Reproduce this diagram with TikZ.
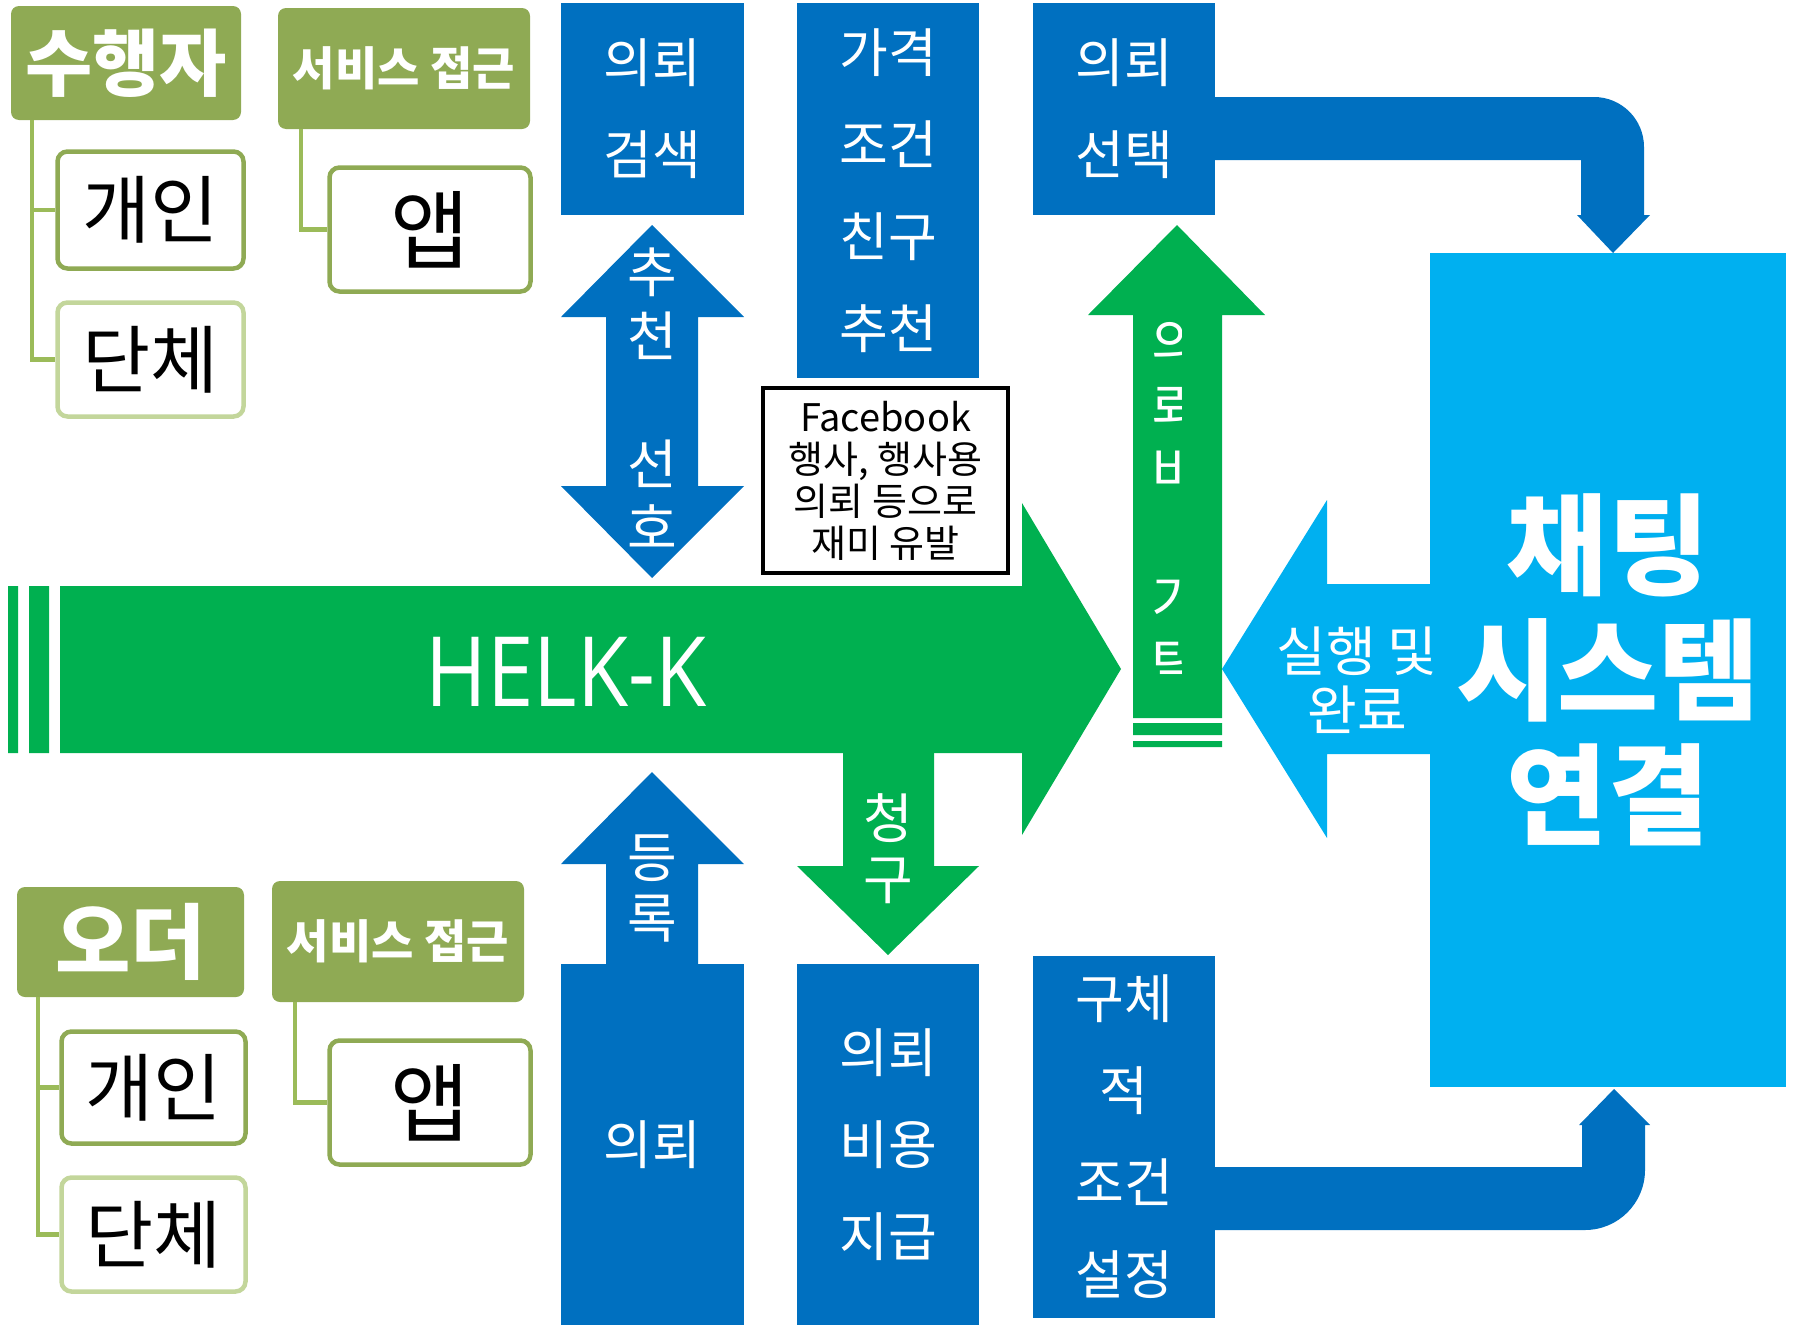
\documentclass[tikz,border=0pt]{standalone}
\usepackage{fontspec}
\setmainfont{Noto Sans CJK KR}
\newfontfamily\helkfont[FakeStretch=0.86]{Open Sans}
\definecolor{olivehead}{HTML}{8FAA54}
\definecolor{olivelight}{HTML}{C3D69B}
\definecolor{treegreen}{HTML}{9BBB59}
\definecolor{flowblue}{HTML}{0070C0}
\definecolor{flowgreen}{HTML}{00B050}
\definecolor{chatcyan}{HTML}{00B0F0}
\begin{document}
\begin{tikzpicture}[x=1pt,y=-1pt,
    headbox/.style={fill=olivehead,text=white,rounded corners=8pt,inner sep=0pt,
      font=\fontsize{73}{73}\selectfont\bfseries},
    svcbox/.style={headbox,minimum width=252pt,minimum height=121pt,
      font=\fontsize{46}{46}\selectfont\bfseries},
    memberbox/.style={draw=olivehead,line width=4.5pt,fill=white,rounded corners=10pt,
      inner sep=0pt,font=\fontsize{74}{74}\selectfont},
    appbox/.style={memberbox,minimum width=201pt,minimum height=124pt,
      font=\fontsize{86}{86}\selectfont},
    treeline/.style={draw=treegreen,line width=4.5pt},
    flowbox/.style={fill=flowblue,text=white,inner sep=0pt,align=center,
      minimum width=183pt,font=\fontsize{53}{92}\selectfont},
    arrowtext/.style={text=white,inner sep=0pt,align=center,
      font=\fontsize{54}{64}\selectfont}
  ]
  \useasboundingbox (0,0) rectangle (1794,1325);
  %
  \node[headbox,minimum width=230pt,minimum height=114pt] (doer) at (126,63) {수행자};
  \node[memberbox,minimum width=186pt,minimum height=117pt] (doerone) at (150.5,210) {개인};
  \node[memberbox,draw=olivelight,minimum width=186pt,minimum height=114pt] (doergrp) at (150.5,359.5) {단체};
  \node[svcbox] (doersvc) at (404,68.5) {서비스 접근};
  \node[appbox] (doerapp) at (430,229.5) {앱};
  \draw[treeline] ([xshift=21pt]doer.south west) |- (doerone.west);
  \draw[treeline] ([xshift=21pt]doer.south west) |- (doergrp.west);
  \draw[treeline] ([xshift=23pt]doersvc.south west) |- (doerapp.west);
  %
  \node[headbox,minimum width=227pt,minimum height=110pt,
    font=\fontsize{82}{82}\selectfont\bfseries] (order) at (130.5,942) {오더};
  \node[memberbox,minimum width=184pt,minimum height=112pt] (orderone) at (153.5,1087.5) {개인};
  \node[memberbox,draw=olivelight,minimum width=184pt,minimum height=114pt] (ordergrp) at (153.5,1234.5) {단체};
  \node[svcbox] (ordersvc) at (398,941.5) {서비스 접근};
  \node[appbox] (orderapp) at (430,1102.5) {앱};
  \draw[treeline] ([xshift=21pt]order.south west) |- (orderone.west);
  \draw[treeline] ([xshift=21pt]order.south west) |- (ordergrp.west);
  \draw[treeline] ([xshift=23pt]ordersvc.south west) |- (orderapp.west);
  %
  \fill[flowgreen] (8,586) rectangle (18,753) (29,586) rectangle (49,753);
  \fill[flowgreen] (60,586) -- (1022,586) -- (1022,503) -- (1121,669) -- (1022,835)
    -- (1022,753) -- (60,753) -- cycle;
  \node[text=white,inner sep=0pt,font=\fontsize{97}{97}\helkfont] (helk) at (566,672) {HELK-K};
  \fill[flowgreen] (843,750) -- (934,750) -- (934,866) -- (979,866) -- (888,955)
    -- (797,866) -- (843,866) -- cycle;
  \node[arrowtext,font=\fontsize{54}{61}\selectfont] (claim) at (888,849) {청\\구};
  %
  \fill[flowgreen] (1133,718) -- (1133,315) -- (1088,315) -- (1177,225) -- (1265,315)
    -- (1222,315) -- (1222,718) -- cycle;
  \fill[flowgreen] (1133,723) rectangle (1222,735) (1133,741) rectangle (1222,747);
  \begin{scope}
    \clip (1133,300) rectangle (1181,720);
    \node[arrowtext] (escrow) at (1176,503) {의\\뢰\\비\\[64pt]기\\탁};
  \end{scope}
  %
  \node[flowbox,minimum height=212pt] (search) at (652.5,109) {의뢰\\검색};
  \node[flowbox,minimum width=182pt,minimum height=375pt] (criteria) at (888,190.5)
    {가격\\조건\\친구\\추천};
  \node[flowbox,minimum width=182pt,minimum height=212pt] (select) at (1124,109) {의뢰\\선택};
  \node[flowbox,minimum height=361pt] (request) at (652.5,1144.5) {의뢰};
  \node[flowbox,minimum width=182pt,minimum height=361pt] (payment) at (888,1144.5)
    {의뢰\\비용\\지급};
  \node[flowbox,minimum width=182pt,minimum height=362pt] (detail) at (1124,1137)
    {구체\\적\\조건\\설정};
  %
  \fill[flowblue] (606,317) -- (561,317) -- (652,225) -- (744,317) -- (698,317) -- (698,486)
    -- (744,486) -- (652,578) -- (561,486) -- (606,486) -- cycle;
  \node[arrowtext] (prefer) at (652,398.5) {추\\천\\[64pt]선\\호};
  \fill[flowblue] (606,966) -- (606,864) -- (561,864) -- (652,772) -- (744,864) -- (698,864)
    -- (698,966) -- cycle;
  \node[arrowtext,font=\fontsize{54}{61}\selectfont] (register) at (652,888) {등\\록};
  %
  \node[draw,line width=4pt,fill=white,inner sep=0pt,align=center,minimum width=245pt,
    minimum height=185pt,font=\fontsize{38}{42}\selectfont] (fbnote) at (885.5,480.5)
    {Facebook\\행사, 행사용\\의뢰 등으로\\재미 유발};
  %
  \fill[flowblue] (1213,97) -- (1594,97) .. controls (1621.6,97) and (1644,119.4) .. (1644,147)
    -- (1644,215) -- (1650,215) -- (1613,253) -- (1577,215) -- (1581,215) -- (1581,160)
    -- (1213,160) -- cycle;
  \fill[flowblue] (1213,1167) -- (1582,1167) -- (1582,1125) -- (1579,1125) -- (1614,1089)
    -- (1650,1125) -- (1645,1125) -- (1645,1170) .. controls (1645,1203.1) and (1618.1,1230) .. (1585,1230)
    -- (1213,1230) -- cycle;
  %
  \node[fill=chatcyan,text=white,inner sep=0pt,align=center,minimum width=356pt,
    minimum height=834pt,font=\fontsize{110}{125}\selectfont\bfseries] (chat) at (1608,670)
    {채팅\\시스템\\연결};
  \fill[chatcyan] (1432,584) -- (1327,584) -- (1327,500) -- (1222,669) -- (1327,838)
    -- (1327,754) -- (1432,754) -- cycle;
  \node[arrowtext,font=\fontsize{54}{59}\selectfont] (done) at (1357,680) {실행 및\\완료};
\end{tikzpicture}
\end{document}
